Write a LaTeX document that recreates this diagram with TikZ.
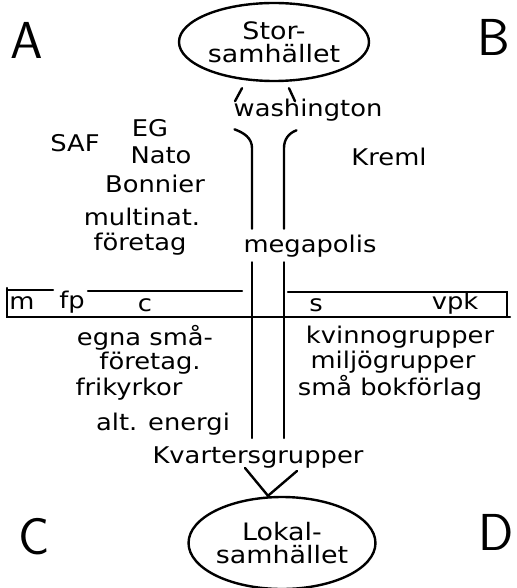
\documentclass[tikz,border=0pt]{standalone}
\usepackage{fontspec}
\setmainfont[FakeStretch=1.12]{DejaVu Sans}
\usetikzlibrary{calc,shapes.geometric}

\begin{document}
\begin{tikzpicture}[x=1pt,y=-1pt,line width=2.4pt,line cap=round,
    hand/.style={font=\fontsize{23}{22}\selectfont,inner sep=0pt},
    party/.style={font=\fontsize{23}{23}\selectfont,inner sep=0pt},
    corner/.style={font=\sffamily\fontsize{52}{52}\selectfont,inner sep=0pt},
    blob/.style={draw,shape=ellipse,inner sep=0pt,align=center,
      font=\fontsize{24}{23}\selectfont}]
      \useasboundingbox (0,0) rectangle (516,588) ;
      % hörnen
      \node[corner] (A) at (27,40) {A} ;
      \node[corner] (B) at (494,37) {B} ;
      \node[corner] (C) at (34,537) {C} ;
      \node[corner] (D) at (496,532) {D} ;
      % de två samhällena
      \node[blob,minimum width=190pt,minimum height=78pt] %
      (stor) at (274,42) {Stor-\\samhället} ;
      \node[blob,minimum width=160pt,minimum height=92pt] %
      (lokal) at (282,543) {Lokal-\\samhället} ;
      % övre halvan
      \node[hand] (wash) at (308,110) {washington} ;
      \node[hand] (saf) at (75,143) {SAF} ;
      \node[hand] (eg) at (150,128) {EG} ;
      \node[hand] (nato) at (161,155) {Nato} ;
      \node[hand] (bonnier) at (155,184) {Bonnier} ;
      \node[hand] (kreml) at (389,157) {Kreml} ;
      \node[hand] (multinat) at (142,217) {multinat.} ;
      \node[hand] (foretag) at (140,244) {företag} ;
      \node[hand] (mega) at (310,246) {megapolis} ;
      % nedre halvan
      \node[hand] (egna) at (145,338) {egna små-} ;
      \node[hand] (smaforetag) at (150,363) {företag.} ;
      \node[hand] (frikyrkor) at (129,389) {frikyrkor} ;
      \node[hand] (energi) at (163,424) {alt. energi} ;
      \node[hand] (kvinno) at (400,337) {kvinnogrupper} ;
      \node[hand] (miljo) at (393,362) {miljögrupper} ;
      \node[hand] (bok) at (390,388) {små bokförlag} ;
      \node[hand] (kvarter) at (258,458) {Kvartersgrupper} ;
      % partiskalan
      \node[party] (m) at (22,303) {m} ;
      \node[party] (fp) at (72,302) {fp} ;
      \node[party] (c) at (145,305) {c} ;
      \node[party] (s) at (316,305) {s} ;
      \node[party] (vpk) at (455,303) {vpk} ;
      \draw (7,288) -- (7,317) -- (510,317) ;
      \draw (7,290) -- (53,290) ;
      \draw (88,291) -- (242,291) ;
      \draw (288,292) -- (507,292) -- (507,317) ;
      % förbindelser uppifrån och ned
      \draw ($(stor.south)+(-32,6)$) -- ($(stor.south)+(-39,19)$) ;
      \draw ($(stor.south)+(15,6)$) -- ($(stor.south)+(21,19)$) ;
      \coordinate (rorV) at (252,148) ;
      \coordinate (rorH) at (284,148) ;
      \draw ($(wash.south west)+(2,7)$) to[out=-20,in=90] (rorV) %
      -- ($(rorV |- mega.north)+(0,-5)$) ;
      \draw ($(wash.south west)+(64,8)$) to[out=200,in=90] (rorH) %
      -- ($(rorH |- mega.north)+(0,-5)$) ;
      \draw ($(rorV |- mega.south)+(0,4)$) -- ($(rorV |- kvarter.north)+(0,-8)$) ;
      \draw ($(rorH |- mega.south)+(0,4)$) -- ($(rorH |- kvarter.north)+(0,-8)$) ;
      \coordinate (spets) at ($(lokal.north)+(-14,0)$) ;
      \draw ($(kvarter.south)+(-13,-2)$) -- (spets) -- ($(kvarter.south)+(39,1)$) ;
    \end{tikzpicture}
\end{document}
